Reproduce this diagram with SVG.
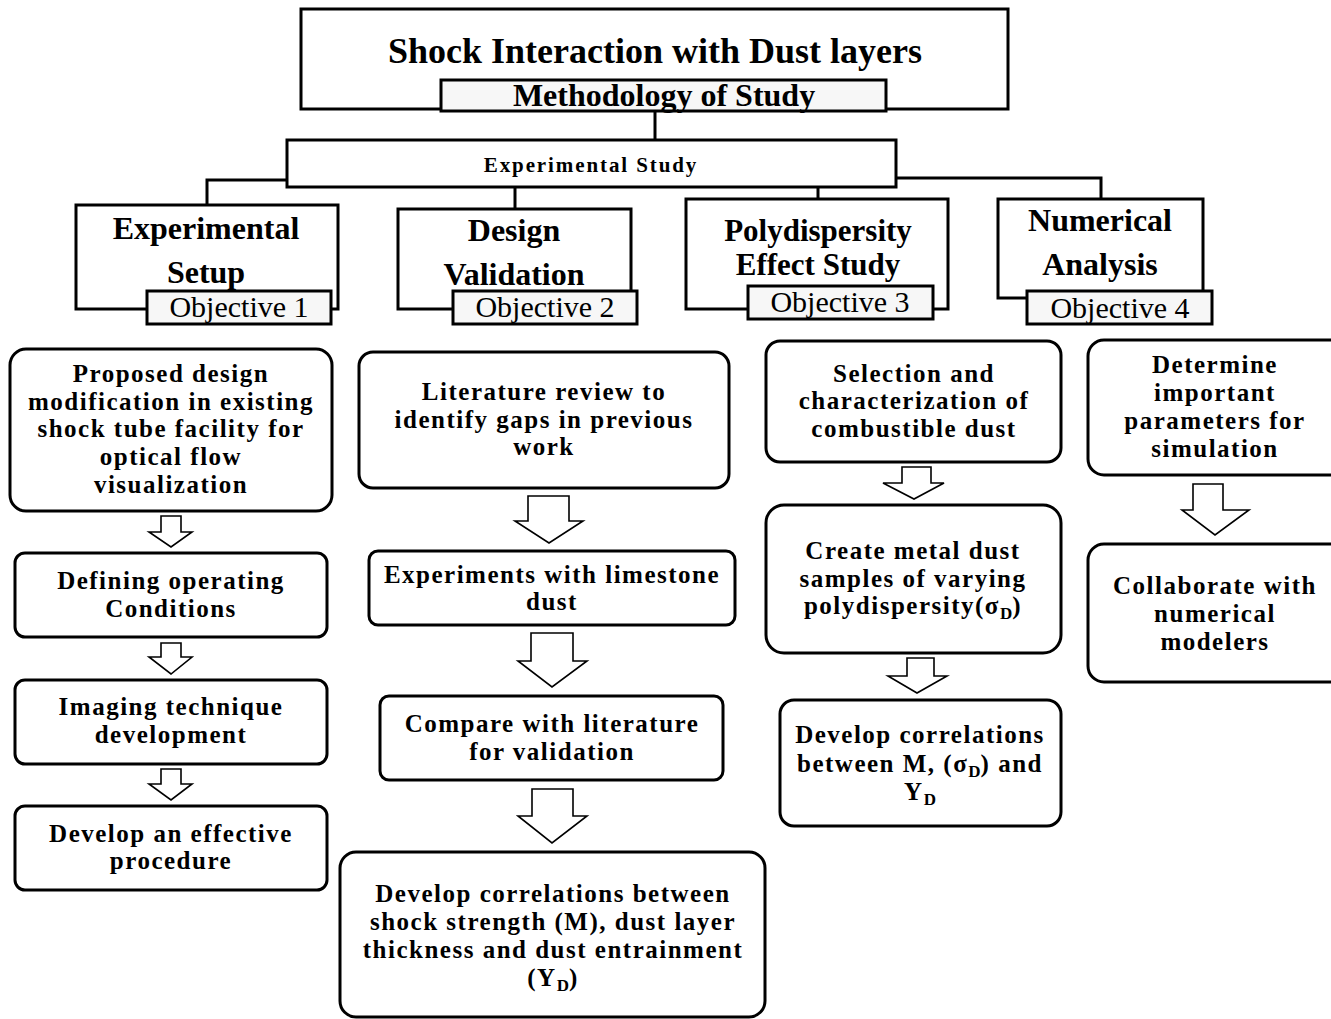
<svg xmlns="http://www.w3.org/2000/svg" width="1331" height="1019" viewBox="0 0 1331 1019">
<style>
text{font-family:"Liberation Serif","Times New Roman",serif;fill:#000;text-anchor:middle}
.b{fill:#fff;stroke:#000;stroke-width:3}
.lab{fill:#f7f7f7;stroke:#000;stroke-width:3}
.t{font-size:36px;font-weight:bold}
.m{font-size:32px;font-weight:bold}
.es{font-size:21px;font-weight:bold;letter-spacing:1.9px}
.h{font-size:32px;font-weight:bold}
.hs{font-size:31px;font-weight:bold}
.o{font-size:30px}
.n{font-size:25px;font-weight:bold;letter-spacing:1.5px}
.sub{font-size:17px;letter-spacing:0}
.arr{fill:#fff;stroke:#000;stroke-width:1.6;stroke-linejoin:miter}
.c{fill:none;stroke:#000;stroke-width:3}
</style>
<rect width="1331" height="1019" fill="#fff"/>

<g id="connectors">
<path class="c" d="M655,111 V140"/>
<path class="c" d="M287,180 H207 V205"/>
<path class="c" d="M515,187 V209"/>
<path class="c" d="M818,187 V199"/>
<path class="c" d="M896,178 H1101 V199"/>
<path class="arr" d="M161,516 H181 V532 H192 L171,547 L149,532 H161 Z"/>
<path class="arr" d="M161,643 H181 V657 H192 L171,674 L149,657 H161 Z"/>
<path class="arr" d="M161,769 H181 V784 H192 L171,800 L149,784 H161 Z"/>
<path class="arr" d="M528,496 H569 V521 H583 L549,543 L515,521 H528 Z"/>
<path class="arr" d="M531,633 H573 V661 H587 L552,687 L518,661 H531 Z"/>
<path class="arr" d="M532,789 H573 V816 H587 L552,843 L518,816 H532 Z"/>
<path class="arr" d="M902,467 H931 V483 H944 L914,499 L883,483 H902 Z"/>
<path class="arr" d="M907,658 H934 V676 H947 L917,693 L888,676 H907 Z"/>
<path class="arr" d="M1193,484 H1223 V510 H1249 L1215,535 L1182,510 H1193 Z"/>
</g>

<g id="title">
<rect class="b" x="301" y="9" width="707" height="100"/>
<text class="t" x="655" y="63">Shock Interaction with Dust layers</text>
</g>
<g id="methodology">
<rect class="lab" x="441" y="80" width="445" height="31"/>
<text class="m" x="664" y="106">Methodology of Study</text>
</g>
<g id="experimental-study">
<rect class="b" x="287" y="140" width="609" height="47"/>
<text class="es" x="591" y="172">Experimental Study</text>
</g>

<g id="experimental-setup">
<rect class="b" x="76" y="205" width="262" height="104"/>
<text class="h" x="206" y="239">Experimental</text>
<text class="h" x="206" y="283">Setup</text>
<rect class="lab" x="147" y="291" width="184" height="33"/>
<text class="o" x="239" y="317">Objective 1</text>
</g>
<g id="design-validation">
<rect class="b" x="398" y="209" width="233" height="100"/>
<text class="h" x="514" y="241">Design</text>
<text class="h" x="514" y="285">Validation</text>
<rect class="lab" x="453" y="291" width="184" height="33"/>
<text class="o" x="545" y="317">Objective 2</text>
</g>
<g id="polydispersity">
<rect class="b" x="686" y="199" width="262" height="110"/>
<text class="hs" x="818" y="241">Polydispersity</text>
<text class="hs" x="818" y="275">Effect Study</text>
<rect class="lab" x="748" y="286" width="185" height="33"/>
<text class="o" x="840" y="312">Objective 3</text>
</g>
<g id="numerical-analysis">
<rect class="b" x="998" y="199" width="205" height="99"/>
<text class="h" x="1100" y="231">Numerical</text>
<text class="h" x="1100" y="275">Analysis</text>
<rect class="lab" x="1027" y="291" width="185" height="33"/>
<text class="o" x="1120" y="318">Objective 4</text>
</g>

<g id="b1">
<rect class="b" x="10" y="349" width="322" height="162" rx="16"/>
<text class="n" x="171" y="382">Proposed design</text>
<text class="n" x="171" y="410">modification in existing</text>
<text class="n" x="171" y="437">shock tube facility for</text>
<text class="n" x="171" y="465">optical flow</text>
<text class="n" x="171" y="493">visualization</text>
</g>
<g id="b2">
<rect class="b" x="15" y="553" width="312" height="84" rx="10"/>
<text class="n" x="171" y="589">Defining operating</text>
<text class="n" x="171" y="617">Conditions</text>
</g>
<g id="b3">
<rect class="b" x="15" y="680" width="312" height="84" rx="10"/>
<text class="n" x="171" y="715">Imaging technique</text>
<text class="n" x="171" y="743">development</text>
</g>
<g id="b4">
<rect class="b" x="15" y="806" width="312" height="84" rx="10"/>
<text class="n" x="171" y="842">Develop an effective</text>
<text class="n" x="171" y="869">procedure</text>
</g>

<g id="c1">
<rect class="b" x="359" y="352" width="370" height="136" rx="14"/>
<text class="n" x="544" y="400">Literature review to</text>
<text class="n" x="544" y="428">identify gaps in previous</text>
<text class="n" x="544" y="455">work</text>
</g>
<g id="c2">
<rect class="b" x="369" y="551" width="366" height="74" rx="9"/>
<text class="n" x="552" y="583">Experiments with limestone</text>
<text class="n" x="552" y="610">dust</text>
</g>
<g id="c3">
<rect class="b" x="380" y="696" width="343" height="84" rx="9"/>
<text class="n" x="552" y="732">Compare with literature</text>
<text class="n" x="552" y="760">for validation</text>
</g>
<g id="c4">
<rect class="b" x="340" y="852" width="425" height="165" rx="16"/>
<text class="n" x="553" y="902">Develop correlations between</text>
<text class="n" x="553" y="930">shock strength (M), dust layer</text>
<text class="n" x="553" y="958">thickness and dust entrainment</text>
<text class="n" x="553" y="986">(Y<tspan class="sub" dy="5">D</tspan><tspan dy="-5">)</tspan></text>
</g>

<g id="d1">
<rect class="b" x="766" y="341" width="295" height="121" rx="14"/>
<text class="n" x="914" y="382">Selection and</text>
<text class="n" x="914" y="409">characterization of</text>
<text class="n" x="914" y="437">combustible dust</text>
</g>
<g id="d2">
<rect class="b" x="766" y="505" width="295" height="148" rx="18"/>
<text class="n" x="913" y="559">Create metal dust</text>
<text class="n" x="913" y="587">samples of varying</text>
<text class="n" x="913" y="614">polydispersity(σ<tspan class="sub" dy="5">D</tspan><tspan dy="-5">)</tspan></text>
</g>
<g id="d3">
<rect class="b" x="780" y="700" width="281" height="126" rx="14"/>
<text class="n" x="920" y="743">Develop correlations</text>
<text class="n" x="920" y="772">between M, (σ<tspan class="sub" dy="5">D</tspan><tspan dy="-5">) and</tspan></text>
<text class="n" x="920" y="800">Y<tspan class="sub" dy="5">D</tspan></text>
</g>

<g id="e1">
<rect class="b" x="1088" y="340" width="262" height="135" rx="16"/>
<text class="n" x="1215" y="373">Determine</text>
<text class="n" x="1215" y="401">important</text>
<text class="n" x="1215" y="429">parameters for</text>
<text class="n" x="1215" y="457">simulation</text>
</g>
<g id="e2">
<rect class="b" x="1088" y="544" width="262" height="138" rx="16"/>
<text class="n" x="1215" y="594">Collaborate with</text>
<text class="n" x="1215" y="622">numerical</text>
<text class="n" x="1215" y="650">modelers</text>
</g>
</svg>
